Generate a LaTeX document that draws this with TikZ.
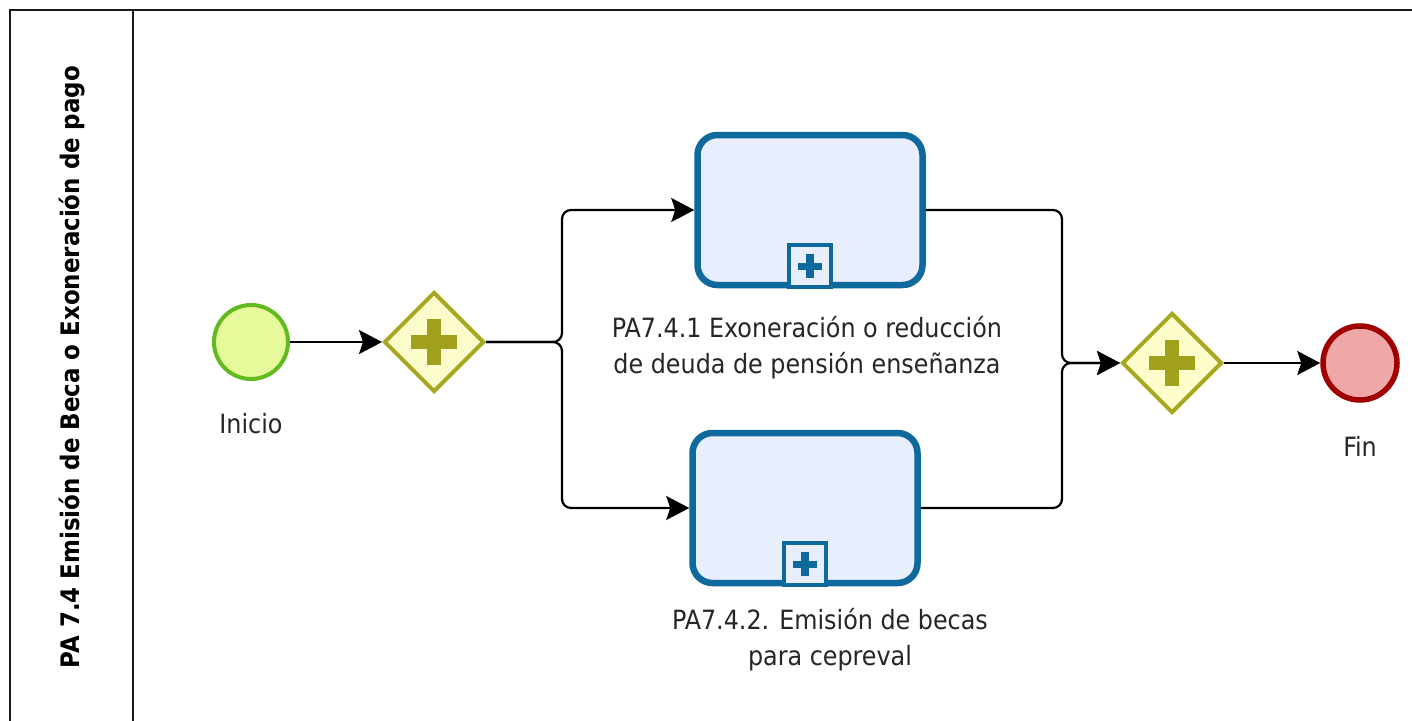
\documentclass[tikz,border=0pt]{standalone}
\usepackage{fontspec}
\setmainfont{DejaVu Sans Condensed}
\usetikzlibrary{arrows.meta,shapes.geometric}
\definecolor{laneline}{HTML}{1A1A1A}
\definecolor{startline}{HTML}{62BB1E}
\definecolor{startfill}{HTML}{E6FA9C}
\definecolor{endline}{HTML}{A00000}
\definecolor{endfill}{HTML}{EFA7A8}
\definecolor{gateline}{HTML}{A7A720}
\definecolor{gatefill}{HTML}{FDFDCB}
\definecolor{gatemark}{HTML}{A0A01C}
\definecolor{taskline}{HTML}{0E6A9C}
\definecolor{taskfill}{HTML}{E8EEFD}
\tikzset{
  x=1pt, y=-1pt,
  lbl/.style={font=\fontsize{26.5}{36}\selectfont, text=black!85, align=center},
  startev/.style={circle, draw=startline, fill=startfill, line width=4pt, minimum size=74pt, inner sep=0pt},
  endev/.style={circle, draw=endline, fill=endfill, line width=5.5pt, minimum size=74pt, inner sep=0pt},
  gate/.style={diamond, draw=gateline, fill=gatefill, line width=4pt, minimum width=100pt, minimum height=100pt, inner sep=0pt},
  subproc/.style={rectangle, rounded corners=20pt, draw=taskline, fill=taskfill, line width=6.5pt, minimum width=225pt, minimum height=150pt, inner sep=0pt},
  flow/.style={draw=black, line width=2.2pt, -{Stealth[length=23pt,width=24pt,inset=4pt]}},
  plusmark/.style={draw=gatemark, line width=14pt},
}
\newcommand{\gateplus}[1]{%
  \draw[plusmark] ([xshift=-23pt]#1.center) -- ([xshift=23pt]#1.center);
  \draw[plusmark] ([yshift=-23pt]#1.center) -- ([yshift=23pt]#1.center);}
\newcommand{\submarker}[1]{%
  \node[draw=taskline, line width=4pt, fill=taskfill, minimum size=42pt, inner sep=0pt, anchor=south] (#1m) at ([yshift=-1pt]#1.south) {};
  \draw[taskline, line width=7.5pt] ([xshift=-12pt]#1m.center) -- ([xshift=12pt]#1m.center);
  \draw[taskline, line width=7.5pt] ([yshift=-12pt]#1m.center) -- ([yshift=12pt]#1m.center);}
\begin{document}
\begin{tikzpicture}
\useasboundingbox (0,0) rectangle (1412,720);
\fill[white] (0,0) rectangle (1412,720);
% pool frame and lane header
\draw[laneline, line width=2pt] (1420,10) -- (10,10) -- (10,730);
\draw[laneline, line width=2pt] (133,10) -- (133,730);
\node[rotate=90, font=\fontsize{25.5}{30}\bfseries\selectfont] (lanetitle) at (72,367) {PA 7.4 Emisión de Beca o Exoneración de pago};

% events and gateways
\node[startev] (start) at (251,342) {};
\node[lbl] (startlbl) at (251,424) {Inicio};
\node[gate] (g1) at (434,342) {};
\gateplus{g1}
\node[subproc] (t1) at (810,210) {};
\submarker{t1}
\node[lbl] (t1lbl) at (807,348) {PA7.4.1 Exoneración o reducción\\de deuda de pensión enseñanza};
\node[subproc] (t2) at (805,508) {};
\submarker{t2}
\node[lbl] (t2lbl) at (830,640) {PA7.4.2. Emisión de becas\\para cepreval};
\node[gate] (g2) at (1172,363) {};
\gateplus{g2}
\node[endev] (end) at (1360,363) {};
\node[lbl] (endlbl) at (1360,446) {Fin};

% sequence flows
\draw[flow] (start) -- (g1);
\draw[flow, rounded corners=9pt] (g1.east) -- (562,342) |- (t1.west);
\draw[flow, rounded corners=9pt] (g1.east) -- (562,342) |- (t2.west);
\draw[flow, rounded corners=9pt] (t1.east) -| (1062,363) -- (g2.west);
\draw[flow, rounded corners=9pt] (t2.east) -| (1062,363) -- (g2.west);
\draw[flow] (g2) -- (end);
\end{tikzpicture}
\end{document}
